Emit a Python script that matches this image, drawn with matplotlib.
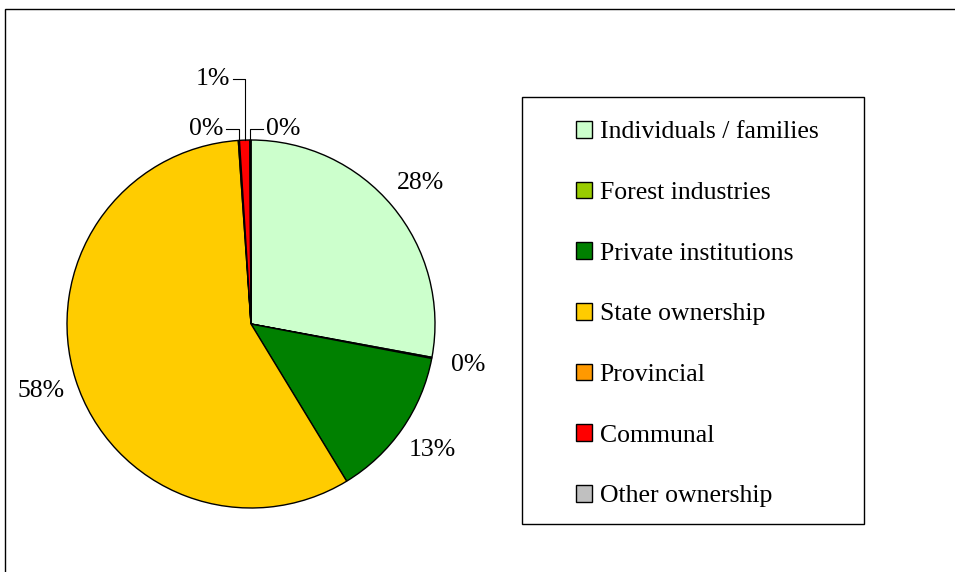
import matplotlib
matplotlib.use("Agg")
import matplotlib.pyplot as plt
import matplotlib.patches as mpatches
import numpy as np

categories = ['Individuals / families', 'Forest industries', 'Private institutions',
              'State ownership', 'Provincial', 'Communal', 'Other ownership']
shares = [27.9, 0.1, 13.3, 57.6, 0.1, 0.9, 0.1]
colors = ['#CCFFCC', '#99CC00', '#008000', '#FFCC00', '#FF9900', '#FF0000', '#C0C0C0']

plt.rcParams['font.family'] = ['Liberation Serif', 'DejaVu Serif']
FS = 18.5

W, H = 955, 572
fig = plt.figure(figsize=(W / 100, H / 100), dpi=100)

# outer chart frame (right/bottom run off the image)
fig.patches.append(mpatches.Rectangle((5 / W, -0.1), 1.2, 1.1 - 9 / H, transform=fig.transFigure,
                                      fill=False, edgecolor='black', linewidth=1.0))

cx, cy, r = 251, 324, 184
ax = fig.add_axes([(cx - r) / W, (H - cy - r) / H, 2 * r / W, 2 * r / H])

wedges, texts = ax.pie(shares, colors=colors, startangle=90, counterclock=False,
                       wedgeprops=dict(edgecolor='black', linewidth=1.0),
                       labels=[f'{round(v):d}%' for v in shares], labeldistance=1.2,
                       textprops=dict(fontsize=FS))
ax.set_xlim(-1, 1)
ax.set_ylim(-1, 1)
ax.set_aspect('auto')
ax.axis('off')
for t in texts:
    t.set_ha('center')
    t.set_va('center')

# small slices at the top get leader lines
leader = {4: (-0.245, 1.06, 'right'), 5: (-0.207, 1.33, 'right'), 6: (0.174, 1.06, 'left')}
for i, (lx, ly, side) in leader.items():
    w = wedges[i]
    ang = np.deg2rad((w.theta1 + w.theta2) / 2)
    ex, ey = np.cos(ang), np.sin(ang)
    t = texts[i]
    t.set_position((lx, ly))
    half = 0.095
    tx = lx + half + 0.015 if side == 'right' else lx - half - 0.015
    ax.plot([ex, ex, tx], [ey, ly, ly], color='black', linewidth=0.8, clip_on=False)

# legend box drawn separately, entries placed inside
fig.patches.append(mpatches.Rectangle((522 / W, 1 - 524 / H), (864 - 522) / W, (524 - 97) / H,
                                      transform=fig.transFigure, fill=False,
                                      edgecolor='black', linewidth=1.0))
leg = fig.legend(wedges, categories, loc='upper left',
                 bbox_to_anchor=(576 / W, 1 - 121 / H),
                 fontsize=FS, frameon=False, handlelength=0.62, handleheight=0.62,
                 handletextpad=0.3, labelspacing=1.49, borderpad=0, borderaxespad=0)

fig.savefig('out.png', dpi=100)
